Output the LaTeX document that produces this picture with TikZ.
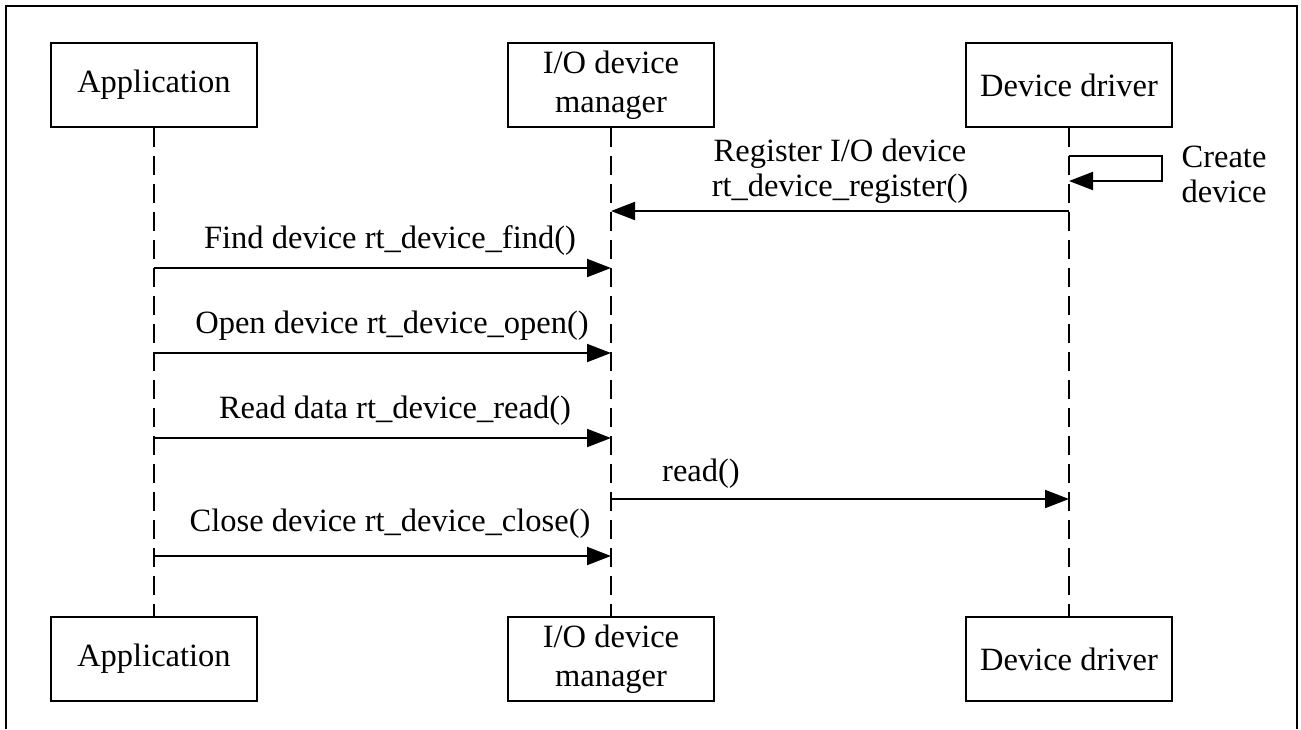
\documentclass[tikz,border=0pt]{standalone}
\usepackage{fontspec}
\setmainfont{Liberation Serif}
\usetikzlibrary{arrows.meta}
\begin{document}
\begin{tikzpicture}[x=1pt,y=-1pt,
  font=\fontsize{32.5}{35}\selectfont,
  actor/.style={draw,line width=2.2pt,minimum width=206pt,minimum height=84pt,align=center,inner sep=0pt,font=\fontsize{32.5}{39}\selectfont},
  life/.style={line width=2pt,dash pattern=on 19pt off 9pt},
  msg/.style={line width=2pt,-{Triangle[length=24pt,width=18pt]}},
  lbl/.style={align=center,inner sep=0pt}]
\useasboundingbox (0,0) rectangle (1301,729);
\draw[line width=2pt] (6,729) -- (6,6) -- (1297,6) -- (1297,729);
% actors
\node[actor] (appT) at (154,85) {\raisebox{-2pt}{Application}};
\node[actor] (mgrT) at (611,85) {I/O device\\manager};
\node[actor] (drvT) at (1069,85) {\raisebox{-2pt}{Device driver}};
\node[actor] (appB) at (154,659) {\raisebox{-2pt}{Application}};
\node[actor] (mgrB) at (611,659) {I/O device\\manager};
\node[actor] (drvB) at (1069,659) {\raisebox{-2pt}{Device driver}};
% lifelines
\draw[life] (appT.south) -- (appB.north);
\draw[life] (mgrT.south) -- (mgrB.north);
\draw[life] (drvT.south) -- (drvB.north);
% message levels
\coordinate (yLoopA) at (1162,156);
\coordinate (yLoopB) at (1162,181);
\coordinate (yReg) at (0,211);
\coordinate (yFind) at (0,268);
\coordinate (yOpen) at (0,353);
\coordinate (yRead) at (0,438);
\coordinate (yDrv) at (0,499);
\coordinate (yClose) at (0,556);
% self loop
\draw[msg] (drvT.south |- yLoopA) -- (yLoopA) -- (yLoopB) -- (drvT.south |- yLoopB);
\node[lbl] (lCreate) at (1224,174) {Create\\device};
% messages
\draw[msg] (drvT.south |- yReg) -- (mgrT.south |- yReg);
\node[lbl] (lReg) at (840,171) {Register I/O device\\rt\_device\_register()};
\draw[msg] (appT.south |- yFind) -- (mgrT.south |- yFind);
\node[lbl] (lFind) at (390,241) {Find device rt\_device\_find()};
\draw[msg] (appT.south |- yOpen) -- (mgrT.south |- yOpen);
\node[lbl] (lOpen) at (392,326) {Open device rt\_device\_open()};
\draw[msg] (appT.south |- yRead) -- (mgrT.south |- yRead);
\node[lbl] (lRead) at (395,411) {Read data rt\_device\_read()};
\draw[msg] (mgrT.south |- yDrv) -- (drvT.south |- yDrv);
\node[lbl] (lDrv) at (701,474) {read()};
\draw[msg] (appT.south |- yClose) -- (mgrT.south |- yClose);
\node[lbl] (lClose) at (390,524) {Close device rt\_device\_close()};
\end{tikzpicture}
\end{document}
